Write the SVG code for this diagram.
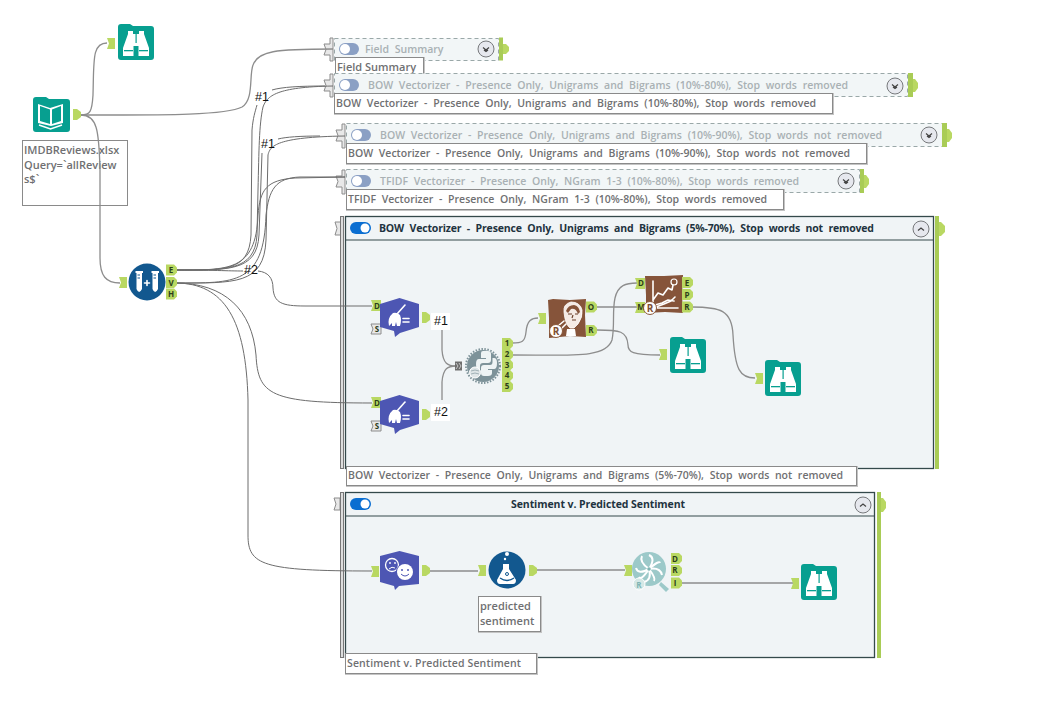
<svg xmlns="http://www.w3.org/2000/svg" width="1045" height="710" viewBox="0 0 1045 710">
<style>
text{font-family:"Open Sans","Noto Sans","Liberation Sans",sans-serif}
.lb{fill:#fff;stroke:#8a8a8a;stroke-width:1}
.sh{fill:none;stroke:#c4c4c4;stroke-width:2}
.lt{font-size:10.5px;font-weight:600;fill:#6f7072}
.ws{word-spacing:3px}
.dim{font-size:10.5px;font-weight:600;fill:#a9b1b4;word-spacing:3px}
.hd{font-size:10.5px;font-weight:700;fill:#1e3340}
.dash{fill:#f2f6f7;stroke:#9aa8a8;stroke-width:1;stroke-dasharray:4 3}
.box{fill:#f0f4f6;stroke:#34494b;stroke-width:1.3}
.bar{fill:#a9cc56}
.tab{fill:#b9d862}
.grey{fill:#e8e8e8;stroke:#8c8c8c;stroke-width:1}
.btn{fill:#e6e8ee;stroke:#77797c;stroke-width:1}
.chev{fill:none;stroke:#444;stroke-width:1.200}
.c{fill:none;stroke:#8d8d8d;stroke-width:1.300}
.cd{fill:none;stroke:#6d6d6d;stroke-width:1}
.a{font-size:8px;font-weight:700;fill:#2c3e1a;text-anchor:middle}
.num{font-size:12.500px;fill:#111;font-family:"Liberation Sans",sans-serif}
.wh{fill:#fff}
.wl{fill:none;stroke:#fff;stroke-width:1.600;stroke-linecap:round;stroke-linejoin:round}
.tg{fill:#8ba0c4}
</style>
<defs>
<g id="browse">
<path d="M0,3 Q0,0 3,0 H12 L15,2 H33 Q36,2 36,5 V33 Q36,36 33,36 H3 Q0,36 0,33Z" fill="#079f90"/>
<path class="wh" d="M10,7 H15 V10 H21 V7 H26 V10 L31,24 V32 H20.500 V22 H15.500 V32 H5 V24 L10,10Z"/>
<rect x="17.500" y="10" width="1.200" height="9" fill="#079f90"/>
<rect x="6" y="26" width="9" height="1.300" fill="#079f90"/><rect x="21" y="26" width="9" height="1.300" fill="#079f90"/>
</g>
<path id="in" class="tab" d="M0,0 H8 V11 H0 L2,5.500Z"/>
<path id="ina" class="tab" d="M0,0 H10 V11 H0 L2,5.500Z"/>
<path id="out" class="tab" d="M0,0 H4 L8,3 V8 L4,11 H0Z"/>
<path id="anc" class="tab" d="M0,0 H8 L11,3 V8 L8,11 H0Z"/>
<g id="clean">
<path d="M19.500,0 L39,6 V29 L20,35 L15,39 L14,33 L0,29 V6Z" fill="#4d56b3"/>
<path class="wh" d="M9,28 Q7,20 13,15 Q17,14 20,17 Q22,22 20,28 L17,28 L16,24 L15,28 L12,28 L12,25Z"/>
<path class="wl" d="M17,16 L25,7" stroke-width="2"/>
<path class="wl" d="M23,20.500 H29 M23,24 H29"/>
</g>
<g id="rbadge"><circle cx="7" cy="7" r="6.500" fill="#fff" stroke="#8b5a3c"/><text x="7" y="10.500" font-size="10" font-weight="700" fill="#7f4f34" text-anchor="middle">R</text></g>
</defs>

<g id="input-label"><rect x="22.500" y="140.500" width="105" height="65" fill="#fff" stroke="#8a8a8a"/>
<text class="lt" x="24" y="154" font-size="11" style="font-size:11px">IMDBReviews.xlsx</text><text class="lt" x="24" y="169" style="font-size:11px">Query=`allReview</text><text class="lt" x="24" y="183" style="font-size:11px">s$`</text></g>

<g id="container-field-summary">
<path class="grey" d="M330,38 H333 V61 H330 V55 H324 L326,49.500 L324,44 H330Z"/>
<rect class="dash" x="334.500" y="38.500" width="164" height="22"/>
<rect class="tg" x="339" y="43" width="20" height="12" rx="6"/><circle cx="345" cy="49" r="5" fill="#fff"/>
<text class="dim" x="365" y="53">Field Summary</text>
<circle class="btn" cx="486" cy="49" r="8"/><path class="chev" d="M483,47.500 L486,50 L489,47.500 M484,50 L486,51.500 L488,50"/>
<rect class="bar" x="499" y="37.500" width="4" height="23"/><path class="tab" d="M503,44 L506,44 L509,47 V51 L506,54 H503Z"/>
<rect class="sh" x="336" y="58" width="88" height="20"/><rect class="lb" x="335.500" y="57.500" width="88" height="20"/>
<text class="lt" x="337" y="71" style="font-size:11px">Field Summary</text>
</g>

<g id="container-bow-10-80">
<path class="grey" d="M330,74 H333 V97 H330 V91 H324 L326,85.500 L324,80 H330Z"/>
<rect class="dash" x="334.500" y="73.500" width="573" height="23"/>
<rect class="tg" x="339" y="79" width="20" height="12" rx="6"/><circle cx="345" cy="85" r="5" fill="#fff"/>
<text class="dim" x="368" y="89" textLength="480">BOW Vectorizer - Presence Only, Unigrams and Bigrams (10%-80%), Stop words removed</text>
<circle class="btn" cx="895" cy="86" r="8"/><path class="chev" d="M892,84.500 L895,87 L898,84.500 M893,87 L895,88.500 L897,87"/>
<rect class="bar" x="908" y="73" width="5" height="24"/><path class="tab" d="M913,79 L915,79 L918,83 V88 L915,92 H913Z"/>
<rect class="sh" x="335" y="94" width="498" height="20"/><rect class="lb" x="334.500" y="93.500" width="498" height="20"/>
<text class="lt ws" x="336" y="107" textLength="480">BOW Vectorizer - Presence Only, Unigrams and Bigrams (10%-80%), Stop words removed</text>
</g>

<g id="container-bow-10-90">
<path class="grey" d="M342,124 H345 V148 H342 V141 H336 L338,135.500 L336,130 H342Z"/>
<rect class="dash" x="346.500" y="123.500" width="596" height="23"/>
<rect class="tg" x="351" y="129" width="20" height="12" rx="6"/><circle cx="357" cy="135" r="5" fill="#fff"/>
<text class="dim" x="380" y="139" textLength="502">BOW Vectorizer - Presence Only, Unigrams and Bigrams (10%-90%), Stop words not removed</text>
<circle class="btn" cx="929" cy="135" r="8"/><path class="chev" d="M926,133.500 L929,136 L932,133.500 M927,136 L929,137.500 L931,136"/>
<rect class="bar" x="942" y="123" width="5" height="24"/><path class="tab" d="M947,129 L949,129 L952,133 V138 L949,142 H947Z"/>
<rect class="sh" x="347" y="144" width="520" height="20"/><rect class="lb" x="346.500" y="143.500" width="520" height="20"/>
<text class="lt ws" x="348" y="157" textLength="502">BOW Vectorizer - Presence Only, Unigrams and Bigrams (10%-90%), Stop words not removed</text>
</g>

<g id="container-tfidf">
<path class="grey" d="M342,170 H345 V194 H342 V187 H336 L338,181.500 L336,176 H342Z"/>
<rect class="dash" x="346.500" y="169.500" width="513" height="23"/>
<rect class="tg" x="351" y="175" width="20" height="12" rx="6"/><circle cx="357" cy="181" r="5" fill="#fff"/>
<text class="dim" x="380" y="185" textLength="419">TFIDF Vectorizer - Presence Only, NGram 1-3 (10%-80%), Stop words removed</text>
<circle class="btn" cx="846" cy="181" r="8"/><path class="chev" d="M843,179.500 L846,182 L849,179.500 M844,182 L846,183.500 L848,182"/>
<rect class="bar" x="860" y="169" width="4" height="24"/><path class="tab" d="M864,175 L866,175 L869,179 V184 L866,188 H864Z"/>
<rect class="sh" x="347" y="190" width="437" height="20"/><rect class="lb" x="346.500" y="189.500" width="437" height="20"/>
<text class="lt ws" x="348" y="203" textLength="419">TFIDF Vectorizer - Presence Only, NGram 1-3 (10%-80%), Stop words removed</text>
</g>

<g id="container-bow-5-70">
<path class="grey" d="M335,222 H341 V235 H335 L337,228.500Z"/>
<rect x="340.500" y="216.500" width="3" height="252" fill="#ddd" stroke="#777"/>
<rect class="box" x="345.500" y="216.500" width="588" height="252"/>
<line x1="345" y1="240" x2="934" y2="240" stroke="#34494b" stroke-width="1.200"/>
<rect x="350" y="222" width="21" height="12" rx="6" fill="#0a6ed1"/><circle cx="365" cy="228" r="4.500" fill="#fff"/>
<text class="hd ws" x="379" y="232" textLength="495">BOW Vectorizer - Presence Only, Unigrams and Bigrams (5%-70%), Stop words not removed</text>
<circle class="btn" cx="921" cy="229" r="8"/><path class="chev" d="M918,230.500 L921,228 L924,230.500"/>
<rect class="bar" x="935" y="216" width="4" height="253"/><path class="tab" d="M939,222 L941,222 L945,226 V232 L941,236 H939Z"/>
<rect class="sh" x="347" y="467" width="510" height="19"/><rect class="lb" x="346.500" y="466.500" width="510" height="19"/>
<text class="lt ws" x="348" y="479" textLength="495">BOW Vectorizer - Presence Only, Unigrams and Bigrams (5%-70%), Stop words not removed</text>
</g>

<g id="container-sentiment">
<path class="grey" d="M334,498 H340 V510 H334 L336,504Z"/>
<rect x="340.500" y="492.500" width="3" height="165" fill="#ddd" stroke="#777"/>
<rect class="box" x="345.500" y="492.500" width="529" height="165"/>
<line x1="345" y1="516" x2="875" y2="516" stroke="#34494b" stroke-width="1.200"/>
<rect x="350" y="498" width="21" height="12" rx="6" fill="#0a6ed1"/><circle cx="365" cy="504" r="4.500" fill="#fff"/>
<text class="hd" x="511" y="508" textLength="174">Sentiment v. Predicted Sentiment</text>
<circle class="btn" cx="863" cy="505" r="8"/><path class="chev" d="M860,506.500 L863,504 L866,506.500"/>
<rect class="bar" x="877" y="492" width="4" height="166"/><path class="tab" d="M881,498 L883,498 L886,502 V508 L883,512 H881Z"/>
<rect class="sh" x="346" y="654" width="191" height="20"/><rect class="lb" x="345.500" y="653.500" width="191" height="20"/>
<text class="lt" x="347" y="667" textLength="174">Sentiment v. Predicted Sentiment</text>
</g>

<g id="connectors">
<path class="c" d="M81,115 C90,115 92,112 93,95 C94,60 92,43 107,43"/>
<path class="c" d="M81,115 C150,115 225,116 242,107 C254,100 249,75 253,65 C258,51 275,49 333,49"/>
<path class="c" d="M81,115 C97,115 99,130 100,170 L100,258 C100,276 106,283 120,283"/>
<path class="cd" d="M175,270 C225,270 249,272 251,235 L252,130 C253,118 255,112 257,105"/>
<path class="cd" d="M175,270 C225,270 255,272 257,235 L258,190 C259,150 259,125 263,107 C267,96 276,87 333,86"/>
<path class="cd" d="M272,90 C282,87 300,86 325,86"/>
<path class="cd" d="M175,270 C228,270 257,272 259,235 L262,153"/>
<path class="cd" d="M278,139 C286,137 300,136 320,136"/>
<path class="cd" d="M175,283 C235,283 264,285 266,240 L268,155 C270,146 276,137 345,136"/>
<path class="cd" d="M175,270 C228,270 256,272 258,215 C260,190 266,180 295,178 L345,177"/>
<path class="cd" d="M175,283 C235,283 264,285 266,215 C269,190 275,178 300,177 L345,177"/>
<path class="cd" d="M175,270 C210,270 230,271 243,271"/>
<path class="cd" d="M258,271 C268,272 273,278 273,288 C274,303 282,306 305,306 L372,306"/>
<path class="cd" d="M175,283 C225,283 252,310 256,355 C258,395 270,403 372,403"/>
<path class="cd" d="M175,283 C225,283 246,320 248,400 L248,535 C248,565 262,571 372,571"/>
<path class="c" d="M442,330 L442,350 C443,364 448,366 456,366"/>
<path class="c" d="M442,400 L442,382 C443,368 448,366 456,366"/>
<path class="c" d="M512,343 C522,343 525,342 526,332 C527,320 532,318 538,318"/>
<path class="c" d="M512,355 C575,355 606,358 612,340 C615,325 612,312 615,298 C618,285 626,283 637,283"/>
<path class="c" d="M597,307 H637"/>
<path class="c" d="M597,330 C620,330 627,331 628,345 C628,352 632,355 660,355"/>
<path class="c" d="M692,307 C720,307 732,310 733,335 C735,370 740,378 755,378"/>
<path class="c" d="M427,571 H478"/>
<path class="c" d="M537,570 H625"/>
<path class="c" d="M680,583 H795"/>
</g>

<g id="browse-top"><use href="#in" x="107" y="38"/><use href="#browse" x="118" y="24"/></g>

<g id="input-tool">
<path d="M33,100 Q33,97 36,97 H46 L49,99 H67 Q70,99 70,102 V129 Q70,132 67,132 H36 Q33,132 33,129Z" fill="#079f90"/>
<path class="wh" d="M38,104 L50,108 L63,104 V123 L51,126 L38,123Z"/>
<path d="M40,106 L50,109.500 V124 L40,121Z M61,106 L52,109.500 V124 L61,121Z" fill="#079f90"/>
<path d="M39,125 L50.500,129 L62,125" fill="none" stroke="#fff" stroke-width="1.500"/>
<use href="#out" x="73" y="109"/>
</g>

<g id="sample-tool">
<use href="#in" x="119" y="277"/>
<circle cx="147" cy="282" r="18.500" fill="#12588f"/>
<path class="wh" d="M135.500,271 H143 V273 H142 V289 Q139,295 136.500,289 V273 H135.500Z M151.500,271 H159 V273 H158 V289 Q155,295 152.500,289 V273 H151.500Z"/>
<path d="M137.500,275 H140 M137.500,278 H140 M153.500,275 H156 M153.500,278 H156" stroke="#12588f" stroke-width="1"/>
<path class="wl" d="M144.500,283 H149.500 M147,280.500 V285.500"/>
<use href="#anc" x="166" y="264.500"/><text class="a" x="171" y="273">E</text>
<use href="#anc" x="166" y="277"/><text class="a" x="171" y="286">V</text>
<use href="#anc" x="166" y="288.500"/><text class="a" x="171" y="297">H</text>
</g>

<g id="labels-top">
<text class="num" x="255" y="101">#1</text>
<text class="num" x="261" y="148">#1</text>
<text class="num" x="244" y="274">#2</text>
</g>

<g id="clean-1"><use href="#ina" x="371" y="300"/><text class="a" x="377" y="308.500">D</text>
<path class="grey" d="M371,324 H381 V334 H371 L373,329Z"/><text class="a" x="377" y="332">S</text>
<use href="#clean" x="380" y="298"/><use href="#out" x="422" y="312"/></g>
<g id="clean-2"><use href="#ina" x="371" y="397"/><text class="a" x="377" y="405.500">D</text>
<path class="grey" d="M371,421 H381 V431 H371 L373,426Z"/><text class="a" x="377" y="429">S</text>
<use href="#clean" x="380" y="395"/><use href="#out" x="422" y="409"/></g>
<g id="label-1"><rect x="431" y="313" width="19" height="17" fill="#fff"/><text class="num" x="434" y="325">#1</text></g>
<g id="label-2"><rect x="431" y="404" width="19" height="17" fill="#fff"/><text class="num" x="434" y="416">#2</text></g>

<g id="python-tool">
<rect x="455" y="361.500" width="7" height="9" fill="#6e6e6e"/><path d="M456,363 L458,366 L456,369 M459,363 L461,366 L459,369" fill="none" stroke="#ddd" stroke-width=".8"/>
<circle cx="483" cy="366" r="16" fill="#7d9299"/><circle cx="483" cy="366" r="17" fill="none" stroke="#7d9299" stroke-width="2" stroke-dasharray="1.500 1.500"/>
<path d="M483,351 H488 Q491,351 491,354 V360 Q491,363 488,363 H483 Q480,363 480,366 V369 H478 Q476,369 476,364 Q476,359 479,359 H486 V358 H481 V353 Q481,351 483,351Z" fill="#eef3f4"/>
<path d="M492.500,358 H494 Q497,358 497,363 Q497,369 494,369 H488 V370 H492 V373 Q492,376 488,376 H484 Q481,376 481,373 V368 Q481,365 484,365 H490 Q492.500,365 492.500,362Z" fill="#eef3f4"/>
<circle cx="475" cy="372.500" r="5.500" fill="#dfe6e8" stroke="#fff"/><path d="M471,371 Q475,369 479,371 M471,374 Q475,372 479,374" fill="none" stroke="#8fa2a8" stroke-width=".8"/>
<use href="#anc" x="502" y="338"/><text class="a" x="507" y="346">1</text>
<use href="#anc" x="502" y="349"/><text class="a" x="507" y="357">2</text>
<use href="#anc" x="502" y="359.500"/><text class="a" x="507" y="367.500">3</text>
<use href="#anc" x="502" y="370"/><text class="a" x="507" y="378">4</text>
<use href="#anc" x="502" y="381"/><text class="a" x="507" y="389">5</text>
</g>

<g id="r-portrait">
<use href="#in" x="538" y="313"/>
<path d="M548,300 L553,299 L570,300 L586,299 L585,315 L586,337 L570,336 L549,338 L549,318Z" fill="#86543a"/>
<path d="M564,312 Q563,304 571,302 Q580,302 582,310 Q583,317 578,324 L574,328 H570 Q565,324 564,312Z" fill="#f5ebe5" stroke="#fff" stroke-width=".8"/>
<path d="M566,311 Q568,305 574,305 Q579,306 580,312 L578,314 Q576,308 571,309 L568,313Z" fill="#86543a"/>
<path d="M568,314 H572 M575,314 H578 M572,320 H576 M573,315 L572,318" stroke="#6b3f2a" stroke-width="1.200" fill="none"/>
<path class="wl" d="M558,326 L564,321 M562,328 L566,324" stroke-width="1"/>
<path d="M567,329 H575 L576,336 H566Z" fill="#fff"/>
<use href="#rbadge" x="549" y="324"/>
<use href="#anc" x="586" y="301.500"/><text class="a" x="591" y="310">O</text>
<use href="#anc" x="586" y="325"/><text class="a" x="591" y="333">R</text>
</g>

<g id="r-chart">
<use href="#ina" x="635" y="278"/><text class="a" x="641" y="286">D</text>
<use href="#ina" x="635" y="302"/><text class="a" x="641" y="310">M</text>
<path d="M645,276 L664,276 L683,275 L682,295 L683,313 L665,312 L646,313 L646,295Z" fill="#86543a"/>
<path class="wl" stroke-width="1.200" d="M653,281 V308 H678 M653,300 L658,293 L663,295 L668,288 L672,290 L673,285 M655,305 L662,303 L668,300 L674,301 M656,307 L664,304 L671,301 L675,297"/>
<circle cx="674" cy="282" r="3" fill="none" stroke="#fff" stroke-width="1.200"/>
<use href="#rbadge" x="643" y="301"/>
<use href="#anc" x="682" y="277"/><text class="a" x="687" y="285.500">E</text>
<use href="#anc" x="682" y="289"/><text class="a" x="687" y="297.500">P</text>
<use href="#anc" x="682" y="301.500"/><text class="a" x="687" y="310">R</text>
</g>

<g id="browse-2"><use href="#in" x="659" y="349"/><use href="#browse" x="670" y="337"/></g>
<g id="browse-3"><use href="#in" x="755" y="373"/><use href="#browse" x="765" y="360"/></g>

<g id="sentiment-tool">
<use href="#in" x="371" y="566"/>
<path d="M399.500,551 L419,556 V584 L399,586 L395,590 L394,586 L380,582 V556Z" fill="#4d56b3"/>
<circle cx="392" cy="565" r="6.500" fill="none" stroke="#fff" stroke-width="1.300"/>
<circle cx="390" cy="563" r=".9" fill="#fff"/><circle cx="395" cy="563" r=".9" fill="#fff"/><path d="M389,569 Q392,566 395,568" fill="none" stroke="#fff"/>
<circle cx="405" cy="572" r="9" fill="#4d56b3"/><circle cx="405" cy="572" r="8" fill="#fff"/>
<circle cx="402" cy="570" r="1" fill="#4d56b3"/><circle cx="408" cy="570" r="1" fill="#4d56b3"/><path d="M401,574 Q405,578 409,574" fill="none" stroke="#4d56b3" stroke-width="1"/>
<use href="#out" x="422" y="565"/>
</g>
<g id="formula-tool">
<use href="#in" x="478" y="565"/>
<circle cx="507" cy="570" r="18.500" fill="#12588f"/>
<path class="wh" d="M503,564 H509 V569 L516,580 Q516,584 513,584 H500 Q497,584 497,580 L503,569Z"/>
<circle cx="507" cy="554" r="2" fill="#fff"/><circle cx="505" cy="559" r="1.200" fill="#fff"/>
<path d="M500,578 Q507,583 514,578" fill="none" stroke="#12588f" stroke-width="1.300"/><circle cx="507" cy="574" r="1.500" fill="none" stroke="#12588f"/>
<use href="#out" x="529" y="565"/>
<rect class="sh" x="479" y="597" width="62" height="35"/><rect class="lb" x="478.500" y="596.500" width="62" height="35"/>
<text class="lt" x="480" y="610" style="font-size:11px">predicted</text><text class="lt" x="480" y="625" style="font-size:11px">sentiment</text>
</g>
<g id="analysis-tool">
<use href="#in" x="624" y="565"/>
<circle cx="649" cy="569" r="17" fill="#9cc9c9"/>
<g fill="none" stroke="#fff" stroke-width="2"><path d="M649,569 Q656,558 649,555"/><path d="M649,569 Q660,567 662,575"/><path d="M649,569 Q652,580 644,582"/><path d="M649,569 Q638,575 636,568"/><path d="M649,569 Q639,562 642,556"/><path d="M649,569 Q659,560 660,563"/><path d="M649,569 Q656,578 654,581"/><path d="M649,569 Q641,581 639,577"/></g>
<circle cx="649" cy="569" r="1.800" fill="#7fb5b3"/>
<path d="M661,582 L669,589 L666,592 L659,585Z" fill="#9cc9c9"/>
<circle cx="639" cy="584" r="6" fill="#d5e8e6" stroke="#fff"/><text x="639" y="587.500" font-size="8" font-weight="700" fill="#7fb5b3" text-anchor="middle">R</text>
<use href="#anc" x="671" y="553"/><text class="a" x="675" y="561.500">D</text>
<use href="#anc" x="671" y="565"/><text class="a" x="675" y="573">R</text>
<use href="#anc" x="671" y="577.500"/><text class="a" x="675" y="586">I</text>
</g>
<g id="browse-4"><use href="#in" x="791" y="578"/><use href="#browse" x="801" y="564"/></g>
</svg>
